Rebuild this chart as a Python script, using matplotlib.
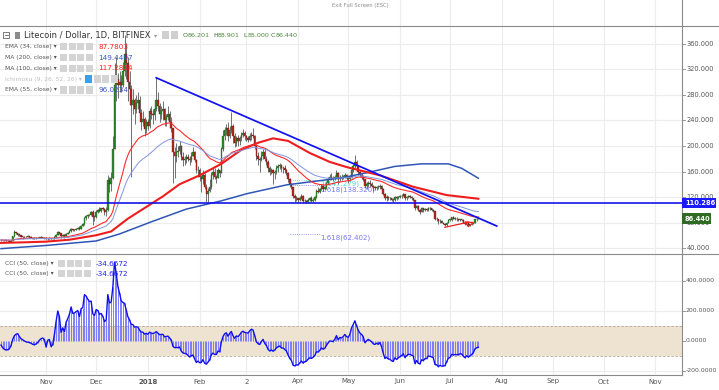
import numpy as np
import pandas as pd
import matplotlib
matplotlib.use('Agg')
import matplotlib.pyplot as plt
import matplotlib.dates as mdates
from matplotlib.lines import Line2D
from matplotlib.patches import Rectangle, Polygon

W, H = 719, 390

# LTC/USD daily candles (Bitfinex), 2017-10-05 .. 2018-07-18
start_day = '2017-10-05'
first_open = 51.8
closes = [
    52.5, 52.0, 52.2, 51.5, 50.5, 50.0, 51.5, 58.5, 64.5, 63.0, 61.0, 60.5, 58.0, 57.5, 57.0, 57.5, 58.5, 57.0, 56.0, 54.5, 55.5, 55.5, 56.0, 56.0, 56.5, 56.0, 55.5,
    54.5, 54.0, 55.5, 54.5, 55.0, 57.5, 61.0, 64.5, 63.5, 59.0, 60.5, 59.5, 62.5, 64.0, 66.0, 69.5, 68.0, 69.0, 70.5, 72.0, 70.0, 75.0, 77.0, 87.0, 89.5, 91.0, 92.5, 96.5, 88.0, 88.5,
    97, 99.5, 98, 102, 101, 96, 100, 146, 140, 150, 196, 295, 305, 295, 300, 296, 318, 345, 330, 300, 290, 265, 272, 258, 268, 272, 252, 238, 242, 226, 238,
    232, 255, 250, 248, 258, 272, 262, 250, 255, 258, 240, 245, 250, 238, 228, 190, 185, 190, 192, 200, 183, 178, 180, 182, 180, 178, 185, 190, 178, 162, 163,
    152, 148, 155, 135, 125, 130, 135, 155, 160, 152, 150, 162, 158, 195, 215, 225, 228, 215, 225, 232, 215, 205, 212, 208, 212, 218, 220, 215,
    212, 210, 215, 218, 215, 200, 185, 180, 178, 185, 190, 180, 175, 165, 160, 162, 158, 160, 165, 168, 170, 165, 165, 162, 158, 148, 140, 135, 122, 118, 118,
    115, 119, 122, 113, 114, 112, 116, 118, 114, 116, 120, 130, 128, 132, 138, 133, 135, 142, 148, 152, 150, 148, 152, 158, 148, 152, 150, 152, 155, 150,
    148, 152, 162, 168, 175, 168, 160, 155, 152, 148, 138, 140, 142, 140, 138, 135, 134, 136, 135, 138, 133, 125, 118, 120, 118, 118, 116, 115, 120, 118, 120,
    121, 122, 124, 118, 120, 121, 120, 118, 116, 103, 106, 100, 97, 102, 99, 101, 100, 103, 102, 100, 98, 86, 85, 82, 83, 80, 78, 76, 80, 84,
    84, 88, 86, 86, 85, 84, 85, 84, 80, 77, 79, 76, 77, 78, 80, 85, 86.201, 86.44,
]
highs = [
    53.5, 53.2, 53.0, 52.8, 52.0, 51.5, 52.0, 59.5, 67.5, 65.5, 64.0, 62.0, 61.0, 58.5, 58.5, 59.0, 60.5, 59.0, 58.5, 57.0, 56.5, 56.5, 57.0, 57.0, 58.5, 57.5, 57.0,
    56.5, 55.5, 57.0, 56.0, 56.0, 59.0, 62.5, 66.5, 65.5, 64.0, 62.0, 61.5, 64.0, 65.5, 67.5, 71.0, 70.5, 70.0, 72.0, 73.5, 74.0, 76.0, 80.0, 89.0, 91.0, 93.5, 94.0, 98.0, 99.0, 92.0,
    99, 101.5, 104, 103.5, 104, 102, 104, 155, 152, 160, 215, 330, 340, 315, 318, 312, 332, 374, 362, 340, 318, 295, 290, 275, 280, 285, 278, 258, 255, 245, 242,
    242, 260, 262, 258, 265, 307, 285, 268, 262, 270, 260, 250, 262, 255, 245, 228, 198, 205, 200, 208, 202, 190, 185, 188, 188, 184, 190, 198, 192, 180, 168,
    165, 155, 162, 158, 140, 134, 148, 160, 165, 166, 155, 166, 163, 198, 225, 230, 235, 238, 232, 254, 235, 220, 216, 218, 215, 222, 226, 224,
    218, 216, 220, 222, 228, 218, 203, 190, 182, 192, 196, 195, 184, 178, 168, 166, 164, 163, 170, 172, 174, 172, 168, 170, 164, 160, 150, 142, 136, 124, 122,
    119, 121, 125, 123, 117, 115, 118, 120, 121, 118, 122, 133, 135, 134, 140, 139, 138, 144, 152, 156, 158, 153, 155, 162, 160, 155, 156, 155, 158, 156,
    151, 154, 165, 172, 186, 178, 170, 163, 157, 155, 149, 143, 145, 146, 143, 139, 138, 138, 139, 140, 139, 134, 126, 123, 121, 120, 119, 118, 122, 121, 122,
    123, 124, 127, 125, 122, 123, 123, 121, 119, 116, 108, 107, 101, 104, 103, 102, 102, 104, 105, 103, 101, 98, 88, 86, 85, 84, 81, 79, 81, 85,
    85, 89, 90, 88, 88, 86, 86, 86, 85, 81, 80, 79, 78, 79, 81, 86, 89, 88.901,
]
lows = [
    51.0, 51.5, 51.5, 50.8, 49.5, 49.0, 49.8, 51.2, 57.5, 61.5, 59.0, 59.5, 57.0, 54.5, 56.0, 56.5, 56.5, 55.5, 55.0, 54.0, 53.5, 54.5, 55.0, 55.2, 55.5, 55.0, 54.5,
    53.5, 52.0, 53.5, 54.0, 54.0, 54.5, 57.0, 60.0, 62.0, 56.0, 58.0, 55.5, 59.0, 61.5, 63.0, 65.5, 66.5, 67.0, 68.0, 69.5, 68.5, 69.5, 74.0, 76.5, 84.5, 87.0, 89.5, 91.0, 76.0, 82.0,
    87, 95, 96, 96.5, 99, 92, 90, 98, 128, 130, 148, 195, 270, 275, 285, 285, 292, 310, 305, 270, 265, 151, 250, 235, 252, 258, 240, 225, 232, 215, 220,
    225, 228, 242, 235, 240, 255, 255, 238, 242, 240, 232, 232, 240, 228, 222, 142, 150, 175, 182, 188, 178, 168, 170, 174, 176, 170, 175, 184, 175, 158, 152,
    145, 128, 140, 132, 112, 110, 128, 132, 148, 148, 142, 150, 152, 158, 192, 210, 218, 208, 212, 220, 205, 198, 200, 200, 202, 208, 214, 210,
    208, 206, 208, 210, 212, 196, 178, 170, 160, 176, 180, 176, 170, 160, 154, 156, 140, 148, 156, 160, 164, 160, 158, 158, 155, 144, 136, 132, 118, 112, 114,
    110, 113, 117, 111, 111, 110, 111, 114, 112, 112, 114, 118, 126, 126, 131, 130, 131, 133, 140, 146, 146, 145, 146, 150, 140, 145, 147, 148, 150, 147,
    142, 146, 150, 160, 166, 163, 155, 152, 148, 145, 134, 132, 136, 135, 136, 130, 131, 131, 133, 133, 131, 123, 115, 114, 116, 115, 114, 112, 114, 116, 117,
    118, 119, 121, 116, 116, 118, 118, 116, 114, 100, 101, 98, 93, 96, 97, 98, 98, 98, 100, 98, 97, 84, 83, 78, 80, 79, 77, 74, 75, 79,
    82, 82, 85, 84, 83, 82, 82, 83, 79, 76, 76, 74, 75, 76, 77, 79, 83, 85.0,
]

# first 30 CCI values (the 50-day window reaches before the data)
cci_head = [-27, -45, -55, -60, -58, -52, -30, 10, 35, 45, 49, 30, 15, 8, 0, -5, -8, -10, -15, -22,
            -25, -20, -10, 5, 15, 20, 10, -40, 5, 10]

# slow moving averages
ma200_dates = ['2017-10-05', '2017-11-01', '2017-12-01', '2017-12-15', '2018-01-04', '2018-01-24',
               '2018-02-14', '2018-03-01', '2018-03-25', '2018-04-27', '2018-05-12', '2018-05-29',
               '2018-06-14', '2018-06-30', '2018-07-08', '2018-07-18']
ma200_vals = [39, 44, 51, 62, 82, 101, 114, 125, 139, 150, 158, 168, 172, 172, 165, 149.45]
ma100_dates = ['2017-10-05', '2017-10-20', '2017-11-01', '2017-11-15', '2017-12-01', '2017-12-10',
               '2017-12-20', '2018-01-01', '2018-01-10', '2018-01-20', '2018-02-01', '2018-02-14',
               '2018-02-26', '2018-03-08', '2018-03-17', '2018-03-26', '2018-04-08', '2018-04-20',
               '2018-04-30', '2018-05-20', '2018-06-09', '2018-06-29', '2018-07-18']
ma100_vals = [48, 49, 50, 53, 60, 66, 86, 106, 121, 140, 154, 172, 194, 205, 212, 208, 189, 175,
              167, 154, 136, 123, 117.28]

# drawings
trend_dates = ['2018-01-06', '2018-07-29']
trend_vals = [307, 74.5]
hline_level = 110.286
fib_levels = [147.279, 138.320, 62.402]
fib_labels = ['1(147.279)', '1.618(138.320)', '1.618(62.402)']
fib_colors = ['#40d8d0', '#7878ee', '#7878ee']
wedge_line_dates = ['2018-06-28', '2018-07-12']
wedge_line_vals = [72.5, 80.5]
wedge_tri_dates = ['2018-07-10', '2018-07-15', '2018-07-12']
wedge_tri_vals = [81.0, 80.0, 73.5]

month_ticks = ['2017-11-01', '2017-12-01', '2018-01-01', '2018-02-01', '2018-03-01', '2018-04-01',
               '2018-05-01', '2018-06-01', '2018-07-01', '2018-08-01', '2018-09-01', '2018-10-01',
               '2018-11-01']
month_labels = ['Nov', 'Dec', '2018', 'Feb', '2', 'Apr', 'May', 'Jun', 'Jul', 'Aug', 'Sep', 'Oct', 'Nov']
price_ticks = [40, 80, 120, 160, 200, 240, 280, 320, 360]
cci_ticks = [400, 200, 0, -200]

legend_names = ['EMA (34, close)', 'MA (200, close)', 'MA (100, close)', 'Ichimoku (9, 26, 52, 26)', 'EMA (55, close)']
legend_values = ['87.7803', '149.4497', '117.2834', '', '96.0234']
legend_colors = ['#ff2222', '#3355cc', '#ff2222', '#c8c8c8', '#3355cc']

d = mdates.date2num(pd.date_range(start_day, periods=len(closes)))
c = np.array(closes, dtype=float)
o = np.r_[first_open, c[:-1]]
s = pd.Series(c)
ema34 = s.ewm(span=34, adjust=False).mean()
ema55 = s.ewm(span=55, adjust=False).mean()
sma50 = s.rolling(50, min_periods=30).mean()
mdev = s.rolling(50, min_periods=30).apply(lambda w: np.abs(w - w.mean()).mean(), raw=True)
cci = ((s - sma50) / (0.015 * mdev)).to_numpy()
cci[:len(cci_head)] = cci_head

def dn(x):
    return mdates.date2num(pd.to_datetime(x))

x_left = d[0] - 0.6
x_right = d[0] + 408

fig = plt.figure(figsize=(W / 100, H / 100), dpi=100)

def fpos(x, y):
    return x / W, 1 - y / H

def ftext(x, y, txt, **kw):
    fig.text(*fpos(x, y), txt, va='center', ha=kw.pop('ha', 'left'), **kw)

def box(x, y, w, h, color, **kw):
    fig.patches.append(Rectangle(fpos(x, y + h), w / W, h / H, transform=fig.transFigure,
                                 facecolor=color, edgecolor=kw.pop('ec', 'none'), lw=0.6, **kw))

# main price pane
ax = fig.add_axes([0, 1 - 254 / H, 682 / W, 254 / H])
ax.set_xlim(x_left, x_right)
ax.set_ylim(30.6, 429.0)
ax.set_axis_off()
for t in month_ticks:
    ax.axvline(dn(t), color='#ececec', lw=0.8, zorder=0)
for p in price_ticks:
    ax.axhline(p, color='#ececec', lw=0.8, zorder=0)

up = c >= o
ax.vlines(d, lows, highs, color='#5a5a5a', lw=0.6, zorder=2)
ax.bar(d, np.maximum(np.abs(c - o), 0.8), bottom=np.minimum(o, c), width=0.9,
       color=np.where(up, '#2f8a2a', '#b3261e'), edgecolor=np.where(up, '#1d5a1a', '#6e1510'),
       lw=0.25, zorder=3)

ax.plot(dn(ma200_dates), ma200_vals, color='#2f55b5', lw=1.1, zorder=4)
ax.plot(dn(ma100_dates), ma100_vals, color='#ee1c1c', lw=1.5, zorder=4)
ax.plot(d, ema34, color='#ff2a2a', lw=0.8, zorder=4)
ax.plot(d, ema55, color='#8096e0', lw=0.7, zorder=4)

ax.plot(dn(trend_dates), trend_vals, color='#1010f0', lw=1.25, zorder=5)
ax.axhline(hline_level, color='#1414e8', lw=1.2, zorder=5)
ax.plot(dn(wedge_line_dates), wedge_line_vals, color='#e82020', lw=0.9, zorder=5)
ax.add_patch(Polygon(np.c_[dn(wedge_tri_dates), wedge_tri_vals], closed=True, fill=False,
                     edgecolor='#e82020', lw=0.9, zorder=5))

for lvl, lab, col in zip(fib_levels, fib_labels, fib_colors):
    ax.plot([dn('2018-03-27'), dn('2018-04-14')], [lvl, lvl], color=col, lw=0.6, ls=':', zorder=1)
    ax.text(dn('2018-04-14') + 0.5, lvl - 1.5, lab, color=col, fontsize=5, va='top', zorder=1)

for p in price_ticks:
    ax.plot([1, 1.005], [p, p], color='#888888', lw=0.6, transform=ax.get_yaxis_transform(), clip_on=False)
    ax.text(1.0065, p, f'{p:.3f}', transform=ax.get_yaxis_transform(), fontsize=4.8,
            color='#555555', va='center', clip_on=False)

# CCI pane
cax = fig.add_axes([0, 1 - 374 / H, 682 / W, 120 / H])
cax.set_xlim(x_left, x_right)
cax.set_ylim(-220, 580)
cax.set_axis_off()
for t in month_ticks:
    cax.axvline(dn(t), color='#ececec', lw=0.8, zorder=0)
for v in cci_ticks:
    cax.axhline(v, color='#ececec', lw=0.8, zorder=0)
cax.axhspan(-100, 100, color='#ede3d0', zorder=0.5, lw=0)
cax.axhline(100, color='#b0a898', lw=0.6, ls=(0, (3, 2)), zorder=1)
cax.axhline(-100, color='#b0a898', lw=0.6, ls=(0, (3, 2)), zorder=1)
cax.vlines(d, 0, cci, color='#6b6bff', lw=0.6, zorder=2)
cax.plot(d, cci, color='#1010ee', lw=1.0, zorder=3)
for v in cci_ticks:
    cax.plot([1, 1.005], [v, v], color='#888888', lw=0.6, transform=cax.get_yaxis_transform(), clip_on=False)
    cax.text(1.005, v, f'{v:.4f}', transform=cax.get_yaxis_transform(), fontsize=4.4,
             color='#555555', va='center', clip_on=False)

# frame lines
for xs, ys in [([0, W], [26, 26]), ([0, W], [254, 254]), ([0, 682], [374.5, 374.5]), ([682, 682], [0, 375])]:
    fig.add_artist(Line2D([x / W for x in xs], [1 - y / H for y in ys], color='#8a8a8a', lw=0.8,
                          transform=fig.transFigure))

# price tags on the axis
box(682, 198, 34, 10, '#1a1aff', zorder=6)
ftext(685, 203, '110.286', fontsize=4.8, color='white', fontweight='bold', zorder=7)
box(682, 213.5, 29, 10.5, '#2f6b22', zorder=6)
ftext(685, 218.7, '86.440', fontsize=4.8, color='white', fontweight='bold', zorder=7)

# date axis
for t, lab in zip(month_ticks, month_labels):
    xf = (dn(t) - x_left) / (x_right - x_left) * 682
    ftext(xf, 381.5, lab, fontsize=5, color='#555555', ha='center',
          fontweight='bold' if lab == '2018' else 'normal')

# header / legends
ftext(360, 5, 'Exit Full Screen (ESC)', fontsize=3.8, color='#8c8c8c', ha='center')
box(3, 32, 6, 6, 'white', ec='#666666')
fig.add_artist(Line2D([4.5 / W, 7.5 / W], [1 - 35 / H, 1 - 35 / H], color='#666666', lw=0.6,
                      transform=fig.transFigure))
box(15, 32, 5, 6.5, '#8c8c8c')
ftext(24, 35.5, 'Litecoin / Dollar, 1D, BITFINEX', fontsize=6, color='#333333')
ftext(153.5, 35.5, '\u25be', fontsize=4.5, color='#9a9a9a')
box(162, 31.5, 7, 7, '#cfcfcf')
box(171, 31.5, 7, 7, '#cfcfcf')
ohlc = [('O', '86.201', 183), ('H', '88.901', 213), ('L', '85.000', 243), ('C', '86.440', 271)]
for letter, val, x0 in ohlc:
    ftext(x0, 35.5, letter, fontsize=4.6, color='#3a6a30')
    ftext(x0 + 5, 35.5, val, fontsize=4.6, color='#4d8a3d')

rows_y = [46.7, 57.7, 68.3, 79, 90]
for name, val, col, y in zip(legend_names, legend_values, legend_colors, rows_y):
    ichi = name.startswith('Ichimoku')
    ftext(5, y, name + ' \u25be', fontsize=4.3, color='#c0c0c0' if ichi else '#555555')
    x0 = 85 if ichi else 60
    for i in range(4):
        box(x0 + i * 8.5, y - 3.5, 7, 7, '#3ca0e6' if (ichi and i == 0) else '#d4d4d4')
    if val:
        ftext(98, y, val, fontsize=5.2, color=col)

for y in [263.5, 273.5]:
    ftext(5, y, 'CCI (50, close) \u25be', fontsize=4.3, color='#555555')
    for i in range(4):
        box(58 + i * 8.5, y - 3.5, 7, 7, '#d4d4d4')
    ftext(96, y, '-34.6672', fontsize=5.2, color='#2020ee')

fig.savefig('out.png', dpi=100, facecolor='white')
